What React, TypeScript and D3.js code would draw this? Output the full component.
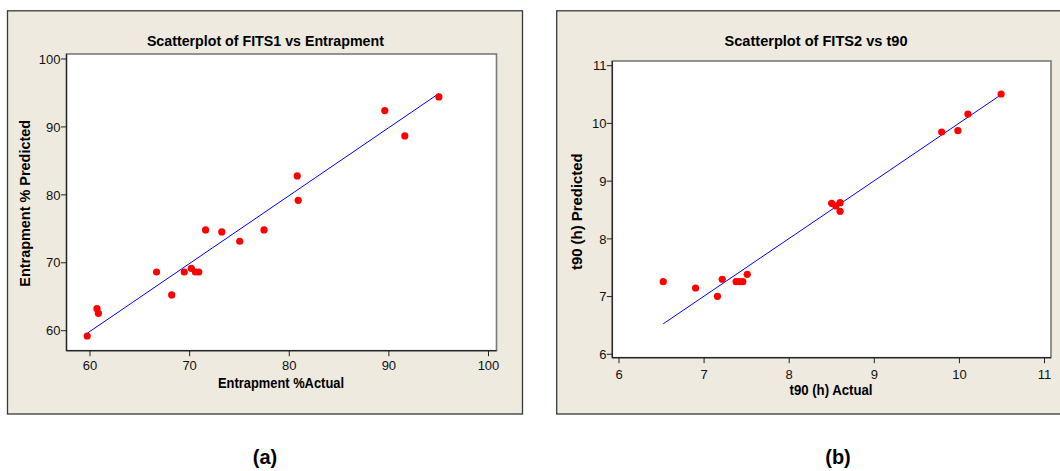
import React from "react";
import * as d3 from "d3";

// ---------- data ----------
const entrapActual = [59.72, 60.70, 60.84, 66.68, 68.20, 69.46, 70.17, 70.58, 70.92, 71.60, 73.23, 75.03, 77.47, 80.80, 80.90, 89.59, 91.60, 95.02];
const entrapPredicted = [59.22, 63.24, 62.56, 68.64, 65.26, 68.64, 69.19, 68.64, 68.64, 74.83, 74.54, 73.17, 74.83, 82.78, 79.20, 92.40, 88.67, 94.42];
const entrapTicks = [60, 70, 80, 90, 100];
const entrapFit = [-0.1, 1.0]; // intercept, slope

const t90Actual = [6.52, 6.90, 7.157, 7.213, 7.376, 7.416, 7.455, 7.507, 8.499, 8.547, 8.598, 8.598, 9.792, 9.982, 10.10, 10.49];
const t90Predicted = [7.258, 7.149, 7.005, 7.30, 7.258, 7.258, 7.258, 7.386, 8.616, 8.569, 8.627, 8.477, 9.851, 9.874, 10.163, 10.51];
const t90Ticks = [6, 7, 8, 9, 10, 11];
const t90Fit = [0.008, 1.0];

const titles = ["Scatterplot of FITS1 vs Entrapment", "Scatterplot of FITS2 vs t90"];
const xLabels = ["Entrapment %Actual", "t90 (h) Actual"];
const yLabels = ["Entrapment % Predicted", "t90 (h) Predicted"];
const captions = ["(a)", "(b)"];

const BG = "#EEEAE0";
const FONT = "'Liberation Sans', Arial, sans-serif";

type PanelProps = {
  xs: number[]; ys: number[]; ticks: number[]; fit: number[];
  title: string; xLabel: string; yLabel: string;
  frame: { x0: number; y0: number; x1: number; y1: number };
  plot: { x0: number; y0: number; x1: number; y1: number };
  xRange: [number, number]; yRange: [number, number];
  titleX: number; titleY: number; titleLen: number;
  xlX: number; xlY: number; xlLen: number;
  ylX: number; ylY: number; ylLen: number;
  yTickRight: number; xTickBase: number;
};

function Panel(p: PanelProps) {
  const tMin = p.ticks[0];
  const tMax = p.ticks[p.ticks.length - 1];
  const x = d3.scaleLinear().domain([tMin, tMax]).range(p.xRange);
  const y = d3.scaleLinear().domain([tMin, tMax]).range(p.yRange);
  const [xmin, xmax] = d3.extent(p.xs) as [number, number];
  const fitPts: [number, number][] = [xmin, xmax].map((v) => [v, p.fit[0] + p.fit[1] * v]);
  const line = d3.line<[number, number]>().x((d) => x(d[0])).y((d) => y(d[1]));
  const { plot, frame } = p;
  return (
    <g>
      <rect x={frame.x0} y={frame.y0} width={frame.x1 - frame.x0} height={frame.y1 - frame.y0}
        fill={BG} stroke="#3a3a3a" strokeWidth={1.3} />
      <rect x={plot.x0} y={plot.y0} width={plot.x1 - plot.x0} height={plot.y1 - plot.y0}
        fill="#fff" stroke="#7a7a7a" strokeWidth={1.6} />
      <line x1={plot.x0} x2={plot.x0} y1={plot.y0} y2={plot.y1} stroke="#222" strokeWidth={1.2} />
      <line x1={plot.x0} x2={plot.x1} y1={plot.y1} y2={plot.y1} stroke="#222" strokeWidth={1.2} />
      {p.ticks.map((t) => (
        <g key={"x" + t}>
          <line x1={x(t)} x2={x(t)} y1={plot.y1} y2={plot.y1 + 5.5} stroke="#222" strokeWidth={1} />
          <text x={x(t)} y={p.xTickBase} textAnchor="middle" fontFamily={FONT} fontSize={13} fill="#111">{t}</text>
        </g>
      ))}
      {p.ticks.map((t) => (
        <g key={"y" + t}>
          <line x1={plot.x0 - 5.5} x2={plot.x0} y1={y(t)} y2={y(t)} stroke="#222" strokeWidth={1} />
          <text x={p.yTickRight} y={y(t) + 4.7} textAnchor="end" fontFamily={FONT} fontSize={13} fill="#111">{t}</text>
        </g>
      ))}
      <path d={line(fitPts) || ""} fill="none" stroke="#0000FF" strokeWidth={1} />
      {p.xs.map((v, i) => (
        <circle key={i} cx={x(v)} cy={y(p.ys[i])} r={3.6} fill="#FF0000" />
      ))}
      <text x={p.titleX} y={p.titleY} textAnchor="middle" fontFamily={FONT} fontWeight="bold" fontSize={15}
        textLength={p.titleLen} lengthAdjust="spacingAndGlyphs" fill="#000">{p.title}</text>
      <text x={p.xlX} y={p.xlY} textAnchor="middle" fontFamily={FONT} fontWeight="bold" fontSize={14}
        textLength={p.xlLen} lengthAdjust="spacingAndGlyphs" fill="#000">{p.xLabel}</text>
      <text transform={`translate(${p.ylX},${p.ylY}) rotate(-90)`} textAnchor="middle" fontFamily={FONT}
        fontWeight="bold" fontSize={14} textLength={p.ylLen} lengthAdjust="spacingAndGlyphs" fill="#000">{p.yLabel}</text>
    </g>
  );
}

export default function App() {
  return (
    <svg width={1060} height={471} style={{ position: "absolute", left: 0, top: 0, background: "#fff" }}>
      <Panel xs={entrapActual} ys={entrapPredicted} ticks={entrapTicks} fit={entrapFit}
        title={titles[0]} xLabel={xLabels[0]} yLabel={yLabels[0]}
        frame={{ x0: 7.5, y0: 10.8, x1: 522.5, y1: 414 }}
        plot={{ x0: 66.5, y0: 54, x1: 496.5, y1: 350.7 }}
        xRange={[90, 488.5]} yRange={[330.7, 59]}
        titleX={265.4} titleY={45.7} titleLen={237}
        xlX={281} xlY={387.7} xlLen={126}
        ylX={30} ylY={203.3} ylLen={166.7}
        yTickRight={60.5} xTickBase={370} />
      <Panel xs={t90Actual} ys={t90Predicted} ticks={t90Ticks} fit={t90Fit}
        title={titles[1]} xLabel={xLabels[1]} yLabel={yLabels[1]}
        frame={{ x0: 556.7, y0: 10.8, x1: 1075, y1: 414 }}
        plot={{ x0: 612.3, y0: 61, x1: 1051, y1: 357.7 }}
        xRange={[619, 1044.5]} yRange={[354.3, 65.7]}
        titleX={816} titleY={45.7} titleLen={183}
        xlX={831} xlY={395} xlLen={83}
        ylX={582} ylY={211.7} ylLen={116.7}
        yTickRight={606.5} xTickBase={379} />
      <text x={265} y={464} textAnchor="middle" fontFamily={FONT} fontWeight="bold" fontSize={20} fill="#000">{captions[0]}</text>
      <text x={838} y={464} textAnchor="middle" fontFamily={FONT} fontWeight="bold" fontSize={20} fill="#000">{captions[1]}</text>
    </svg>
  );
}
